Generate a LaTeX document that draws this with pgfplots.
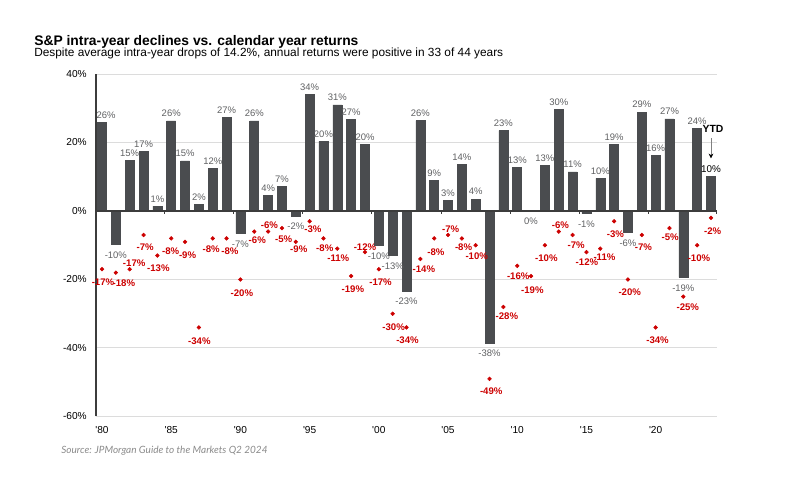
\documentclass[border=0pt]{standalone}
\usepackage{pgfplots}
\pgfplotsset{compat=1.18}
\usetikzlibrary{arrows.meta}
\usepackage{fontspec}
\setmainfont{Liberation Sans}[Ligatures=TeXOff]
\newfontfamily\srcfont{Lato}
\definecolor{barc}{HTML}{4A4C4F}
\definecolor{lblc}{HTML}{5F6062}
\definecolor{ddred}{HTML}{CC0000}
\definecolor{gridc}{HTML}{DCDCDC}
\definecolor{axc}{HTML}{3C3C3C}
\definecolor{srcc}{HTML}{8A8A8A}

\pgfplotstableread{
x y l
1980 25.8 26
}\firstret

\pgfplotstableread{
x y l
1982 14.8 15
1983 17.3 17
1984 1.4 1
1985 26.3 26
1986 14.6 15
1987 2.0 2
1988 12.4 12
1989 27.3 27
1991 26.3 26
1992 4.5 4
1993 7.1 7
1995 34.1 34
1996 20.3 20
1997 31.0 31
1998 26.7 27
1999 19.5 20
2003 26.4 26
2004 9.0 9
2005 3.0 3
2006 13.6 14
2007 3.5 4
2009 23.5 23
2010 12.8 13
2012 13.4 13
2013 29.6 30
2014 11.4 11
2016 9.5 10
2017 19.4 19
2019 28.9 29
2020 16.3 16
2021 26.9 27
2023 24.2 24
}\posret

\pgfplotstableread{
x y l
1981 -9.7 -10
1990 -6.6 -7
1994 -1.5 -2
2000 -10.1 -10
2001 -13.0 -13
2002 -23.4 -23
2008 -38.5 -38
2011 0.0 0
2015 -0.7 -1
2018 -6.2 -6
2022 -19.4 -19
}\negret

\pgfplotstableread{
x y l
2024 10.2 10
}\ytdret

\begin{document}
\begin{tikzpicture}[x=0.75pt,y=0.75pt]
\path[use as bounding box] (0,0) rectangle (800,489);
\node[anchor=base west, inner sep=0] at (34,443) {\fontsize{10.4}{12}\selectfont\bfseries S\&P intra-year declines vs. calendar year returns};
\node[anchor=base west, inner sep=0] at (34,432.3) {\fontsize{8.9}{10}\selectfont Despite average intra-year drops of 14.2\%, annual returns were positive in 33 of 44 years};
\node[anchor=base west, inner sep=0, text=srcc] at (61,35.7) {\srcfont\fontsize{7.5}{9}\selectfont\itshape Source: JPMorgan Guide to the Markets Q2 2024};

\begin{axis}[
  at={(72pt,54.375pt)}, anchor=south west,
  scale only axis, width=465.75pt, height=256.875pt,
  xmin=1979.566, xmax=2024.434, ymin=-60, ymax=40,
  clip=false,
  axis lines*=left,
  x axis line style={draw=gridc, line width=0.75pt, -},
  y axis line style={draw=axc, line width=1.1pt, -},
  major tick length=0pt,
  ytick={-60,-40,-20,0,20,40},
  yticklabels={-60\%,-40\%,-20\%,0\%,20\%,40\%},
  xtick={1980,1985,1990,1995,2000,2005,2010,2015,2020},
  xticklabels={'80,'85,'90,'95,'00,'05,'10,'15,'20},
  ymajorgrids, grid style={draw=gridc, line width=0.75pt},
  tick label style={font=\fontsize{7.6}{9}\selectfont, inner sep=0pt},
  yticklabel style={xshift=-6.75pt},
  xticklabel style={yshift=-7pt},
  /pgf/number format/assume math mode=true,
]
% first bar (label nudged right, as in the reference)
\addplot[ybar, bar width=6.75pt, bar shift=0pt, fill=barc, draw=barc,
  point meta=explicit symbolic, nodes near coords={\pgfplotspointmeta\%},
  every node near coord/.append style={anchor=center, xshift=3pt, yshift=5.5pt, text=lblc, font=\fontsize{7.1}{8}\selectfont, inner sep=0pt}]
  table[x=x, y=y, meta=l] {\firstret};
% bars, positive
\addplot[ybar, bar width=6.75pt, bar shift=0pt, fill=barc, draw=barc,
  point meta=explicit symbolic, nodes near coords={\pgfplotspointmeta\%},
  every node near coord/.append style={anchor=center, yshift=5.5pt, text=lblc, font=\fontsize{7.1}{8}\selectfont, inner sep=0pt}]
  table[x=x, y=y, meta=l] {\posret};
% bars, negative
\addplot[ybar, bar width=6.75pt, bar shift=0pt, fill=barc, draw=barc,
  point meta=explicit symbolic, nodes near coords={\pgfplotspointmeta\%},
  every node near coord/.append style={anchor=center, yshift=-7.9pt, text=lblc, font=\fontsize{7.1}{8}\selectfont, inner sep=0pt}]
  table[x=x, y=y, meta=l] {\negret};
% YTD bar
\addplot[ybar, bar width=6.75pt, bar shift=0pt, fill=barc, draw=barc,
  point meta=explicit symbolic, nodes near coords={\pgfplotspointmeta\%},
  every node near coord/.append style={anchor=center, yshift=5.5pt, text=black, font=\fontsize{7.4}{8}\selectfont, inner sep=0pt}]
  table[x=x, y=y, meta=l] {\ytdret};
% zero line and small ticks
\draw[axc, line width=1pt] (axis cs:1979.566,0) -- (axis cs:2024.434,0);
\pgfplotsinvokeforeach{1984.5,1989.5,1994.5,1999.5,2004.5,2009.5,2014.5,2019.5,2024.4}{
  \draw[axc, line width=0.8pt] (axis cs:#1,0) -- ([yshift=-2.5pt]axis cs:#1,0);
}
% intra-year declines; dx, dy = label offset from the dot (px, dy downward)
\addplot[only marks, mark=*, mark size=1.4pt, color=ddred,
  visualization depends on={value \thisrow{dx} \as \ddx},
  visualization depends on={value \thisrow{dy} \as \ddy},
  point meta=explicit symbolic, nodes near coords={\pgfplotspointmeta\%},
  every node near coord/.append style={anchor=center, xshift={\ddx*0.75pt}, yshift={(0-\ddy)*0.75pt}, text=ddred, font=\fontsize{7.2}{8}\selectfont\bfseries, inner sep=0pt}]
  table[x=x, y=y, meta=y] {
x y dx dy
1980 -17 1 13.4
1981 -18 8 10.3
1982 -17 4.5 -5.7
1983 -7 1.7 12.7
1984 -13 1 12.7
1985 -8 -0.5 12.7
1986 -9 2.5 13
1987 -34 0.5 13.3
1988 -8 -1.5 10.3
1989 -8 3.3 12.3
1990 -20 1.5 13.3
1991 -6 3 9
1992 -6 1.3 -6
1993 -5 1.7 11
1994 -9 3 7.5
1995 -3 3.3 8.3
1996 -8 1.3 9.3
1997 -11 1 9.7
1998 -19 1.7 13.3
1999 -12 0 -5.3
2000 -17 1.7 13.3
2001 -30 1 13.4
2002 -34 1 13
2003 -14 3.5 10
2004 -8 1.7 13.7
2005 -7 2.7 -6
2006 -8 1.7 9
2007 -10 1 10.7
2008 -49 1.7 12.7
2009 -28 3.5 9.3
2010 -16 1 10.7
2011 -19 1.3 13.7
2012 -10 1.5 12.7
2013 -6 1.7 -6
2014 -7 3.5 10
2015 -12 0.5 10.3
2016 -11 4.2 8.7
2017 -3 1.3 13
2018 -20 1.8 12.7
2019 -7 1.7 12
2020 -34 1.9 12.7
2021 -5 0.7 9.3
2022 -25 4.5 11
2023 -10 1.8 13.3
2024 -2 1.7 13.3
};
% YTD annotation
\node[font=\fontsize{7.8}{9}\selectfont\bfseries, inner sep=0pt] at (axis cs:2024.15,23.9) {YTD};
\draw[draw=gray, line width=0.5pt, -{Stealth[length=3.5pt, width=3.5pt, black]}] (axis cs:2024,21.3) -- (axis cs:2024,15.4);
\end{axis}
\end{tikzpicture}
\end{document}
